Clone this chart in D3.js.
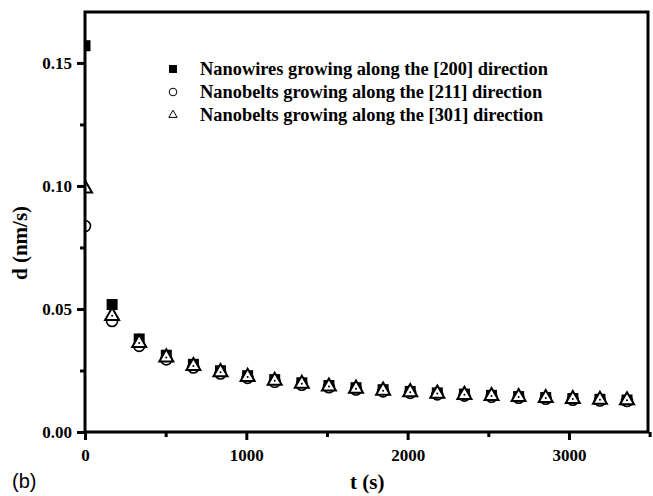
<!DOCTYPE html>
<html>
<head>
<meta charset="utf-8">
<script src="https://cdn.jsdelivr.net/npm/d3@7"></script>
<style>
  body { margin: 0; background: #fff; }
  svg { display: block; }
  .tick text { font-family: "Liberation Serif", serif; font-weight: bold; font-size: 17px; fill: #000; }
</style>
</head>
<body>
<svg id="graph" width="653" height="496"></svg>
<script>
// time (s)
const times = [0, 168, 336, 504, 672, 840, 1008, 1176, 1344, 1512, 1680, 1848, 2016, 2184, 2352, 2520, 2688, 2856, 3024, 3192, 3360];

// growth rate d (nm/s)
const wires200 = [0.157, 0.0518, 0.0378, 0.0312, 0.0275, 0.0249, 0.0229, 0.0213, 0.0200, 0.0189, 0.0180, 0.0172, 0.0165, 0.0159, 0.0154, 0.0149, 0.0144, 0.0140, 0.0136, 0.0133, 0.0130];
const belts211 = [0.0837, 0.0451, 0.0350, 0.0295, 0.0262, 0.0238, 0.0220, 0.0204, 0.0192, 0.0182, 0.0173, 0.0165, 0.0159, 0.0153, 0.0148, 0.0143, 0.0139, 0.0135, 0.0131, 0.0128, 0.0126];
const belts301 = [0.099, 0.0472, 0.0362, 0.0303, 0.0268, 0.0243, 0.0224, 0.0208, 0.0196, 0.0185, 0.0176, 0.0168, 0.0162, 0.0156, 0.0151, 0.0146, 0.0142, 0.0138, 0.0134, 0.0131, 0.0129];

const seriesNames = [
  "Nanowires growing along the [200] direction",
  "Nanobelts growing along the [211] direction",
  "Nanobelts growing along the [301] direction"
];

const xTicks = [0, 1000, 2000, 3000];
const xMinor = [500, 1500, 2500, 3500];
const yTicks = [0.00, 0.05, 0.10, 0.15];
const yMinor = [0.025, 0.075, 0.125];

const svg = d3.select("#graph"),
  margin = {top: 12, right: 5, bottom: 64, left: 85},
  width = +svg.attr("width") - margin.left - margin.right,
  height = +svg.attr("height") - margin.top - margin.bottom;

const x = d3.scaleLinear().domain([0, 3490]).range([0, width]);
const y = d3.scaleLinear().domain([0, 0.1707]).range([height, 0]);

const g = svg.append("g")
  .attr("transform", `translate(${margin.left},${margin.top})`);

g.append("clipPath").attr("id", "plot-clip")
  .append("rect").attr("width", width).attr("height", height);

// minor ticks
g.append("g")
  .attr("transform", `translate(0,${height})`)
  .call(d3.axisBottom(x).tickValues(xMinor).tickSize(5).tickFormat(""))
  .call(a => a.select(".domain").remove())
  .selectAll("line").attr("stroke-width", 3);

g.append("g")
  .call(d3.axisLeft(y).tickValues(yMinor).tickSize(5).tickFormat(""))
  .call(a => a.select(".domain").remove())
  .selectAll("line").attr("stroke-width", 3);

// X - Axis
g.append("g")
  .attr("transform", `translate(0,${height})`)
  .call(d3.axisBottom(x).tickValues(xTicks).tickSize(8).tickPadding(9).tickFormat(d3.format("d")))
  .call(a => a.select(".domain").remove())
  .selectAll("line").attr("stroke-width", 3);

// Y - Axis
g.append("g")
  .call(d3.axisLeft(y).tickValues(yTicks).tickSize(8).tickPadding(5).tickFormat(d3.format(".2f")))
  .call(a => a.select(".domain").remove())
  .selectAll("line").attr("stroke-width", 3);

// markers
const plot = g.append("g").attr("clip-path", "url(#plot-clip)");

const sq = 11;
plot.append("g").selectAll("rect")
  .data(times.map((t, i) => [t, wires200[i]]))
  .join("rect")
  .attr("x", d => x(d[0]) - sq / 2)
  .attr("y", d => y(d[1]) - sq / 2)
  .attr("width", sq).attr("height", sq)
  .attr("fill", "#000");

plot.append("g").selectAll("circle")
  .data(times.map((t, i) => [t, belts211[i]]))
  .join("circle")
  .attr("cx", d => x(d[0]))
  .attr("cy", d => y(d[1]))
  .attr("r", 5.5)
  .attr("fill", "#fff")
  .attr("stroke", "#000")
  .attr("stroke-width", 1.6);

const tri = d3.symbol().type(d3.symbolTriangle).size(85);
const triG = plot.append("g").selectAll("g")
  .data(times.map((t, i) => [t, belts301[i]]))
  .join("g")
  .attr("transform", d => `translate(${x(d[0])},${y(d[1])})`);
triG.append("path")
  .attr("d", tri)
  .attr("fill", "#fff")
  .attr("stroke", "#000")
  .attr("stroke-width", 2)
  .attr("stroke-linejoin", "miter");
triG.append("circle").attr("r", 1).attr("fill", "#000");

// frame
g.append("rect")
  .attr("width", width).attr("height", height)
  .attr("fill", "none")
  .attr("stroke", "#000")
  .attr("stroke-width", 3);

// legend
const legend = g.append("g").attr("transform", "translate(88,57)");
const rowH = 23;
legend.append("rect").attr("x", -4).attr("y", -4).attr("width", 8).attr("height", 8).attr("fill", "#000");
legend.append("circle").attr("cy", rowH).attr("r", 3.8).attr("fill", "#fff").attr("stroke", "#000").attr("stroke-width", 1);
legend.append("path").attr("transform", `translate(0,${rowH * 2})`)
  .attr("d", d3.symbol().type(d3.symbolTriangle).size(30))
  .attr("fill", "#fff").attr("stroke", "#000").attr("stroke-width", 1);
legend.selectAll("text.name")
  .data(seriesNames)
  .join("text")
  .attr("class", "name")
  .attr("x", 27)
  .attr("y", (d, i) => i * rowH + 6)
  .style("font-family", "Liberation Serif, serif")
  .style("font-weight", "bold")
  .style("font-size", "18.4px")
  .text(d => d);

// axis titles
svg.append("text")
  .attr("x", margin.left + x(1750))
  .attr("y", 489)
  .attr("text-anchor", "middle")
  .style("font-family", "Liberation Serif, serif")
  .style("font-weight", "bold")
  .style("font-size", "21px")
  .text("t (s)");

svg.append("text")
  .attr("transform", "translate(27,243) rotate(-90)")
  .attr("text-anchor", "middle")
  .style("font-family", "Liberation Serif, serif")
  .style("font-weight", "bold")
  .style("font-size", "21px")
  .text("d (nm/s)");

svg.append("text")
  .attr("x", 12)
  .attr("y", 488)
  .style("font-family", "Liberation Sans, Arial, sans-serif")
  .style("font-size", "20px")
  .text("(b)");
</script>
</body>
</html>
